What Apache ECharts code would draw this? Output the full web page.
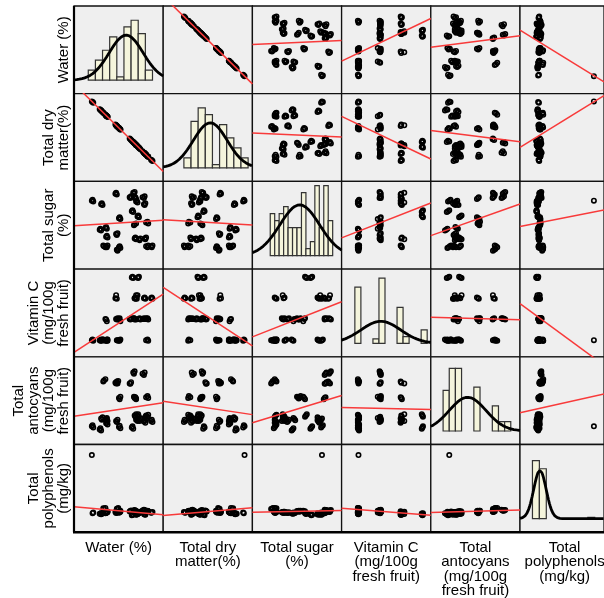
<!DOCTYPE html>
<html><head><meta charset="utf-8">
<script src="https://cdn.jsdelivr.net/npm/echarts@6/dist/echarts.min.js"></script>
<style>html,body{margin:0;padding:0;background:#fff}#c{width:604px;height:598px}</style>
</head><body><div id="c"></div>
<script>
// ---- variable labels ----
const varLabels = ["Water (%)", "Total dry\nmatter(%)", "Total sugar\n(%)",
  "Vitamin C\n(mg/100g\nfresh fruit)", "Total\nantocyans\n(mg/100g\nfresh fruit)", "Total\npolyphenols\n(mg/kg)"];

// ---- observations (27 samples x 3 replicates) ----
const water = [79.5,79.7,79.6, 80.8,81.0,80.9, 82.8,83.0,82.9, 84.8,85.0,84.9, 85.3,85.5,85.4,
  85.5,85.7,85.6, 85.7,85.9,85.8, 86.6,86.8,86.9, 86.8,87.0,86.9, 85.1,85.3,85.2,
  85.9,86.1,86.0, 83.3,83.5,83.4, 85.5,85.7,85.4, 87.1,87.3,87.4, 80.6,80.8,80.7,
  81.4,81.6,81.5, 81.5,81.7,81.6, 82.9,83.1,83.0, 85.5,85.7,85.6, 86.1,86.3,86.2,
  86.9,87.1,87.0, 87.1,87.3,87.4, 87.8,88.0,87.9, 81.2,81.4,81.1, 81.5,81.7,81.6,
  83.0,83.2,83.1, 83.3,83.5,83.4];
const dryMatter = [20.5,20.3,20.4, 19.2,19.0,19.1, 17.2,17.0,17.1, 15.2,15.0,15.1, 14.7,14.5,14.6,
  14.5,14.3,14.4, 14.3,14.1,14.2, 13.4,13.2,13.1, 13.2,13.0,13.1, 14.9,14.7,14.8,
  14.1,13.9,14.0, 16.7,16.5,16.6, 14.5,14.3,14.6, 12.9,12.7,12.6, 19.4,19.2,19.3,
  18.6,18.4,18.5, 18.5,18.3,18.4, 17.1,16.9,17.0, 14.5,14.3,14.4, 13.9,13.7,13.8,
  13.1,12.9,13.0, 12.9,12.7,12.6, 12.2,12.0,12.1, 18.8,18.6,18.9, 18.5,18.3,18.4,
  17.0,16.8,16.9, 16.7,16.5,16.6];
const sugar = [11.9,11.85,11.95, 11.7,11.65,11.75, 12.3,12.25,12.35, 12.1,12.15,12.05, 12.35,12.4,12.3,
  12.05,12.0,12.1, 11.85,11.8,11.9, 12.1,12.05,12.15, 11.7,11.75,11.65, 11.3,11.25,11.35,
  11.0,10.95,11.05, 10.9,10.85,10.95, 10.55,10.6,10.5, 10.65,10.7,10.6, 10.25,10.2,10.3,
  10.35,10.3,10.4, 9.85,9.8,9.9, 10.0,10.05,9.95, 9.75,9.7,9.8, 9.7,9.75,9.65,
  9.75,9.8,9.7, 9.3,9.25,9.35, 9.3,9.35,9.25, 9.3,9.25,9.35, 9.3,9.35,9.25,
  9.1,9.15,9.05, 9.25,9.2,9.3];
const vitaminC = [10.6,10.5,10.7, 10.6,10.7,10.5, 17.7,17.6,18.2, 14.2,14.3,14.1, 14.2,14.1,14.3,
  17.7,17.8,17.6, 17.7,18.2,17.6, 14.2,14.3,14.2, 17.7,17.6,17.8, 21.2,21.1,21.3,
  21.2,21.3,21.1, 14.2,13.8,14.3, 14.2,14.1,14.3, 14.2,14.3,14.1, 10.6,10.7,10.5,
  14.2,13.8,14.1, 10.6,10.5,10.7, 14.2,14.3,14.1, 17.7,18.2,17.8, 14.2,14.1,14.3,
  14.2,14.3,14.2, 10.6,10.7,10.5, 17.7,17.6,17.8, 10.6,10.5,10.7, 10.6,10.7,10.5,
  10.6,10.5,10.6, 10.6,10.7,10.5];
const antocyans = [30,28,32, 43,45,41, 102,104,101, 101,103,100.5, 119,121,117,
  77,75,78, 41,39,43, 117,115,119, 38,36,40, 28,26,30,
  48,46,50, 77,79,75, 78,76,79, 78,80,77, 25,23,27,
  42,44,40, 41,39,42, 39,41,37, 48,50,46, 41,43,39,
  44,42,46, 48,46,49, 39,37,41, 106,108,104, 35,33,36,
  103,105,101, 29,27,31];
const polyphenols = [5440,1470,1410, 1350,1410,1380, 1490,1550,1520, 1540,1600,1570, 1580,1640,1610,
  1420,1480,1450, 1300,1360,1330, 1600,1660,1630, 1360,1300,1330, 1270,1330,1300,
  1360,1420,1390, 1520,1580,1550, 1530,1590,1560, 1520,1580,1550, 1370,1420,1395,
  1420,1470,1445, 1440,1500,1470, 1430,1480,1455, 1440,1490,1465, 1450,1510,1480,
  1460,1520,1490, 1520,1570,1545, 1440,1490,1465, 1720,1780,1750, 1470,1530,1500,
  1730,1770,1700, 1450,1510,1480];

// ---- histogram breaks and counts (diagonal panels) ----
const waterBreaks = [79,80,81,82,83,84,85,86,87,88];
const waterCounts = [3,6,9,13,1,16,18,14,3];
const dryBreaks = [12,13,14,15,16,17,18,19,20,21];
const dryCounts = [3,14,18,16,1,13,9,6,3];
const sugarBreaks = [9,9.25,9.5,9.75,10,10.25,10.5,10.75,11,11.25,11.5,11.75,12,12.25,12.5];
const sugarCounts = [6,5,6,7,4,4,4,9,1,2,10,4,10,5];
const vitCBreaks = [10,11,12,13,14,15,16,17,18,19,20,21,22];
const vitCCounts = [25,0,0,2,29,0,0,16,3,0,0,6];
const antoBreaks = [20,30,40,50,60,70,80,90,100,110,120,130];
const antoCounts = [13,20,20,0,0,14,0,0,8,3,3];
const polyBreaks = [1000,1500,2000,2500,3000,3500,4000,4500,5000,5500];
const polyCounts = [43,37,0,0,0,0,0,0,1];

// ---- layout (not data) ----
const axisRanges = [[77,89.5],[9.1,21.6],[8,13],[7.8,22.6],[0,145],[100,6170]];
const pxPerCount = [3.33,3.33,7.0,2.25,3.13,1.35];
const X0 = 74, CW = 89.2, Y0 = 6, CH = 87.7, BASE = 13.5;

const vars = [water, dryMatter, sugar, vitaminC, antocyans, polyphenols];
const hists = [[waterBreaks,waterCounts],[dryBreaks,dryCounts],[sugarBreaks,sugarCounts],
  [vitCBreaks,vitCCounts],[antoBreaks,antoCounts],[polyBreaks,polyCounts]];

function mean(a){return a.reduce((s,v)=>s+v,0)/a.length;}
function sd(a){const m=mean(a);return Math.sqrt(a.reduce((s,v)=>s+(v-m)*(v-m),0)/(a.length-1));}
function lm(x,y){const mx=mean(x),my=mean(y);let sxy=0,sxx=0;
  for(let k=0;k<x.length;k++){sxy+=(x[k]-mx)*(y[k]-my);sxx+=(x[k]-mx)*(x[k]-mx);}
  const b=sxy/sxx;return [my-b*mx,b];}

const grids=[],xAxes=[],yAxes=[],series=[];
for(let i=0;i<6;i++){
  for(let j=0;j<6;j++){
    const idx=i*6+j;
    grids.push({left:X0+j*CW,top:Y0+i*CH,width:CW,height:CH,show:true,
      backgroundColor:'#efefef',borderColor:'#111',borderWidth:1.3});
    xAxes.push({type:'value',gridIndex:idx,min:axisRanges[j][0],max:axisRanges[j][1],show:false});
    if(i===j){
      yAxes.push({type:'value',gridIndex:idx,min:-BASE/pxPerCount[i],max:(CH-BASE)/pxPerCount[i],show:false});
      const [br,ct]=hists[i];
      const barData=[];
      ct.forEach((c,k)=>{if(c>0)barData.push([br[k],br[k+1],c]);});
      series.push({type:'custom',xAxisIndex:idx,yAxisIndex:idx,data:barData,silent:true,z:2,
        encode:{x:[0,1],y:2},
        renderItem:function(params,api){
          const p0=api.coord([api.value(0),0]);const p1=api.coord([api.value(1),api.value(2)]);
          return {type:'rect',shape:{x:p0[0],y:p1[1],width:p1[0]-p0[0],height:p0[1]-p1[1]},
            style:{fill:'#f5f5dc',stroke:'#333',lineWidth:1.2}};
        }});
      const v=vars[i],m=mean(v),s=sd(v),n=v.length,bw=br[1]-br[0];
      const r0=axisRanges[i][0],r1=axisRanges[i][1];
      const pts=[];
      for(let t=0;t<=200;t++){const x=r0+(r1-r0)*t/200;
        pts.push([x,n*bw*Math.exp(-0.5*((x-m)/s)*((x-m)/s))/(s*Math.sqrt(2*Math.PI))]);}
      series.push({type:'line',xAxisIndex:idx,yAxisIndex:idx,data:pts,symbol:'none',showSymbol:false,
        lineStyle:{color:'#000',width:2.8},clip:true,silent:true,z:3});
    } else {
      yAxes.push({type:'value',gridIndex:idx,min:axisRanges[i][0],max:axisRanges[i][1],show:false});
      const xv=vars[j],yv=vars[i];
      series.push({type:'scatter',xAxisIndex:idx,yAxisIndex:idx,data:xv.map((x,k)=>[x,yv[k]]),
        symbol:'circle',symbolSize:4.4,silent:true,z:2,
        itemStyle:{color:'rgba(0,0,0,0)',borderColor:'#000',borderWidth:1.6,opacity:1}});
      const [a,b]=lm(xv,yv);
      const r0=axisRanges[j][0],r1=axisRanges[j][1];
      series.push({type:'line',xAxisIndex:idx,yAxisIndex:idx,data:[[r0,a+b*r0],[r1,a+b*r1]],
        symbol:'none',showSymbol:false,lineStyle:{color:'#f83a3a',width:1.5},clip:true,silent:true,z:3});
    }
  }
}

const font='15px "Liberation Sans", Arial, sans-serif';
const graphics=[];
varLabels.forEach((t,i)=>{
  graphics.push({type:'text',x:71.5,y:Y0+(i+0.5)*CH,rotation:Math.PI/2,z:100,
    style:{text:t,font:font,fill:'#000',textAlign:'center',textVerticalAlign:'bottom',lineHeight:15}});
  graphics.push({type:'text',x:X0+(i+0.5)*CW,y:540.5,z:100,
    style:{text:t,font:font,fill:'#000',textAlign:'center',textVerticalAlign:'top',lineHeight:14.5}});
});
graphics.push({type:'line',z:100,shape:{x1:X0,y1:Y0,x2:X0,y2:Y0+6*CH},style:{stroke:'#000',lineWidth:2.2}});
graphics.push({type:'line',z:100,shape:{x1:X0-1,y1:Y0+6*CH,x2:610,y2:Y0+6*CH},style:{stroke:'#000',lineWidth:2.6}});

const chart=echarts.init(document.getElementById('c'),null,{renderer:'canvas'});
chart.setOption({animation:false,backgroundColor:'#fff',grid:grids,xAxis:xAxes,yAxis:yAxes,series:series,graphic:graphics});
</script>
</body></html>
